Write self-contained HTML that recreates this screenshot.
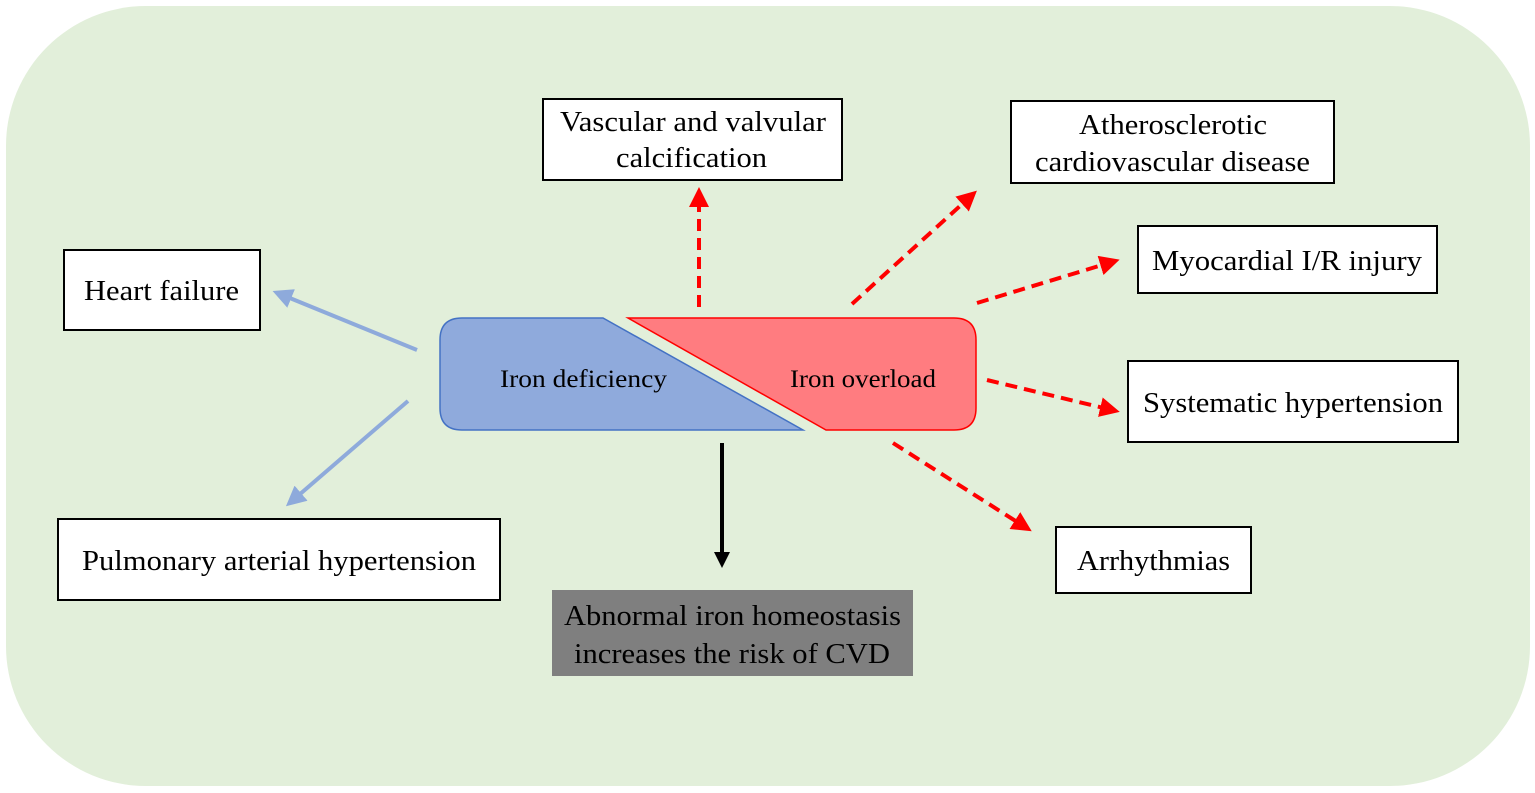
<!DOCTYPE html>
<html><head><style>html,body{margin:0;padding:0;background:#fff}svg{display:block}text{font-family:"Liberation Serif",serif;font-size:28px;fill:#000}</style></head>
<body>
<svg width="1535" height="793" viewBox="0 0 1535 793" xmlns="http://www.w3.org/2000/svg">
<defs>
<marker id="r" markerWidth="5" markerHeight="5" refX="3" refY="2.5" orient="auto" markerUnits="strokeWidth"><path d="M0,0 L5,2.5 L0,5 z" fill="#f00"/></marker>
<marker id="b" markerWidth="5" markerHeight="5" refX="3" refY="2.5" orient="auto" markerUnits="strokeWidth"><path d="M0,0 L5,2.5 L0,5 z" fill="#8eaadb"/></marker>
<marker id="k" markerWidth="4" markerHeight="4" refX="2" refY="2" orient="auto" markerUnits="strokeWidth"><path d="M0,0 L4,2 L0,4 z" fill="#000"/></marker>
</defs>
<rect x="6" y="6" width="1524" height="780" rx="140" fill="#e2efda"/>
<path d="M462,318 L603,318 L803,430 L462,430 Q440,430 440,408 L440,340 Q440,318 462,318 z" fill="#8faadc" stroke="#4472c4" stroke-width="1.5"/>
<path d="M628,318 L954,318 Q976,318 976,340 L976,408 Q976,430 954,430 L826,430 z" fill="#ff7c80" stroke="#f00" stroke-width="1.5"/>
<text x="500" y="387" style="font-size:25px" textLength="167" lengthAdjust="spacingAndGlyphs">Iron deficiency</text>
<text x="790" y="387" style="font-size:25px" textLength="146" lengthAdjust="spacingAndGlyphs">Iron overload</text>
<g stroke="#f00" stroke-width="4" stroke-dasharray="12,7" fill="none" marker-end="url(#r)">
<line x1="699" y1="307" x2="699" y2="195"/>
<line x1="852" y1="304" x2="971" y2="196"/>
<line x1="977" y1="303" x2="1112" y2="262"/>
<line x1="987" y1="380" x2="1112" y2="410"/>
<line x1="893" y1="443" x2="1025" y2="527"/>
</g>
<g stroke="#8eaadb" stroke-width="4" fill="none" marker-end="url(#b)">
<line x1="417" y1="350" x2="280" y2="294"/>
<line x1="408" y1="401" x2="292" y2="501"/>
</g>
<line x1="722" y1="443" x2="722" y2="560" stroke="#000" stroke-width="4" marker-end="url(#k)"/>
<g fill="#fff" stroke="#000" stroke-width="2">
<rect x="543" y="99" width="299" height="81"/>
<rect x="1011" y="101" width="323" height="82"/>
<rect x="1138" y="226" width="299" height="67"/>
<rect x="1128" y="361" width="330" height="81"/>
<rect x="1056" y="527" width="195" height="66"/>
<rect x="64" y="250" width="196" height="80"/>
<rect x="58" y="519" width="442" height="81"/>
</g>
<rect x="552" y="590" width="361" height="86" fill="#7f7f7f"/>
<g lengthAdjust="spacingAndGlyphs">
<text x="560" y="131" textLength="266" lengthAdjust="spacingAndGlyphs">Vascular and valvular</text>
<text x="616" y="167" textLength="151" lengthAdjust="spacingAndGlyphs">calcification</text>
<text x="1079" y="134" textLength="188" lengthAdjust="spacingAndGlyphs">Atherosclerotic</text>
<text x="1035" y="171" textLength="275" lengthAdjust="spacingAndGlyphs">cardiovascular disease</text>
<text x="1152" y="270" textLength="270" lengthAdjust="spacingAndGlyphs">Myocardial I/R injury</text>
<text x="1143" y="412" textLength="300" lengthAdjust="spacingAndGlyphs">Systematic hypertension</text>
<text x="1077" y="570" textLength="153" lengthAdjust="spacingAndGlyphs">Arrhythmias</text>
<text x="84" y="300" textLength="155" lengthAdjust="spacingAndGlyphs">Heart failure</text>
<text x="82" y="570" textLength="394" lengthAdjust="spacingAndGlyphs">Pulmonary arterial hypertension</text>
<text x="564" y="625" textLength="337" lengthAdjust="spacingAndGlyphs">Abnormal iron homeostasis</text>
<text x="574" y="663" textLength="316" lengthAdjust="spacingAndGlyphs">increases the risk of CVD</text>
</g>
</svg>
</body></html>
